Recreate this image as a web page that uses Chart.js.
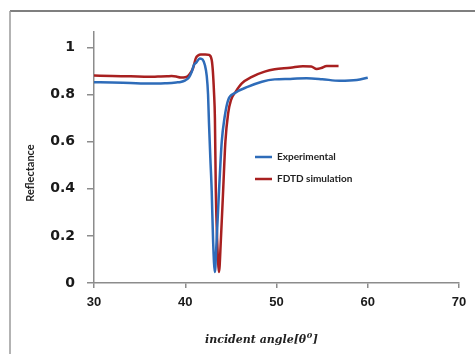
<!DOCTYPE html>
<html>
<head>
<meta charset="utf-8">
<script src="https://cdn.jsdelivr.net/npm/chart.js@4"></script>
<style>
  html, body { margin: 0; padding: 0; background: #ffffff; }
  #wrap { width: 475px; height: 354px; position: relative; }
</style>
</head>
<body>
<div id="wrap"><canvas id="c" width="475" height="354"></canvas></div>
<script>
// ---- data ----
const seriesNames = ["Experimental", "FDTD simulation"];

const expAngle = [30, 32, 34, 35.5, 37, 38, 39, 39.5, 40, 40.4, 40.7, 40.95, 41.2, 41.6, 41.9, 42.15, 42.35, 42.5, 42.6, 42.75, 42.9, 43.05, 43.25, 43.4, 43.7, 44.0, 44.3, 44.7, 45.4, 46.9, 48.4, 49.8, 51.5, 53.3, 55, 56.9, 58.8, 60];
const expR     = [0.852, 0.851, 0.849, 0.846, 0.846, 0.848, 0.851, 0.853, 0.860, 0.872, 0.895, 0.925, 0.935, 0.953, 0.948, 0.925, 0.88, 0.80, 0.68, 0.53, 0.39, 0.18, 0.047, 0.15, 0.39, 0.60, 0.70, 0.776, 0.805, 0.833, 0.854, 0.864, 0.866, 0.869, 0.865, 0.858, 0.861, 0.871];

const fdtdAngle = [30, 32, 34, 36, 37, 38, 38.5, 39, 39.5, 40, 40.4, 40.85, 41.15, 41.4, 41.7, 42.2, 42.6, 42.9, 43.03, 43.15, 43.25, 43.35, 43.5, 43.7, 43.9, 44.15, 44.4, 44.7, 45.0, 45.5, 46.2, 47.3, 48.7, 49.8, 51.5, 52.9, 53.8, 54.4, 54.9, 55.5, 56.2, 56.8];
const fdtdR     = [0.880, 0.878, 0.877, 0.875, 0.876, 0.877, 0.878, 0.876, 0.872, 0.873, 0.882, 0.911, 0.953, 0.965, 0.970, 0.970, 0.968, 0.946, 0.897, 0.81, 0.70, 0.39, 0.18, 0.047, 0.18, 0.39, 0.60, 0.72, 0.775, 0.81, 0.847, 0.875, 0.897, 0.907, 0.913, 0.920, 0.919, 0.908, 0.912, 0.921, 0.921, 0.921];

const xTickValues = [30, 40, 50, 60, 70];
const yTickValues = [0, 0.2, 0.4, 0.6, 0.8, 1];

const xTitle = "incident angle[θ";
const xTitleSup = "0";
const xTitleEnd = "]";
const yTitle = "Reflectance";

// ---- styles ----
const BLUE = "#2e6cb9";
const RED = "#a82020";
const AXIS = "#8c8c8c";

function pts(xs, ys) { return xs.map((x, i) => ({ x: x, y: ys[i] })); }

const decor = {
  id: "decor",
  beforeDraw(chart) {
    const ctx = chart.ctx;
    ctx.save();
    ctx.fillStyle = "#ffffff";
    ctx.fillRect(0, 0, chart.width, chart.height);
    // outer frame
    ctx.strokeStyle = "#555555";
    ctx.lineWidth = 1.5;
    ctx.beginPath();
    ctx.moveTo(10, 11); ctx.lineTo(475, 11);
    ctx.stroke();
    ctx.strokeStyle = "#9a9a9a";
    ctx.beginPath();
    ctx.moveTo(10, 11); ctx.lineTo(10, 354);
    ctx.stroke();
    ctx.restore();
  },
  afterDraw(chart) {
    const ctx = chart.ctx;
    ctx.save();
    // legend
    const ds = chart.data.datasets;
    const rows = [157, 179];
    ds.forEach((d, i) => {
      ctx.strokeStyle = d.borderColor;
      ctx.lineWidth = 2.5;
      ctx.beginPath();
      ctx.moveTo(255, rows[i]); ctx.lineTo(272, rows[i]);
      ctx.stroke();
      ctx.fillStyle = "#222222";
      ctx.font = "bold 10px Lato";
      ctx.textBaseline = "middle";
      ctx.textAlign = "left";
      ctx.fillText(d.label, 277, rows[i]);
    });
    // x title
    ctx.fillStyle = "#222222";
    ctx.textBaseline = "alphabetic";
    ctx.font = "bold italic 11px 'DejaVu Serif'";
    const w1 = ctx.measureText(xTitle).width;
    ctx.font = "bold italic 8px 'DejaVu Serif'";
    const w2 = ctx.measureText(xTitleSup).width;
    ctx.font = "bold italic 11px 'DejaVu Serif'";
    const w3 = ctx.measureText(xTitleEnd).width;
    let x0 = 261 - (w1 + w2 + w3) / 2;
    const base = 343;
    ctx.fillText(xTitle, x0, base);
    ctx.font = "bold italic 8px 'DejaVu Serif'";
    ctx.fillText(xTitleSup, x0 + w1 + 0.5, base - 5);
    ctx.font = "bold italic 11px 'DejaVu Serif'";
    ctx.fillText(xTitleEnd, x0 + w1 + w2 + 1, base);
    // y title
    ctx.translate(30, 173);
    ctx.rotate(-Math.PI / 2);
    ctx.font = "bold 11px Lato";
    ctx.textAlign = "center";
    ctx.textBaseline = "middle";
    ctx.fillText(yTitle, 0, 0);
    ctx.restore();
  }
};

new Chart(document.getElementById("c"), {
  type: "line",
  data: {
    datasets: [
      { label: seriesNames[0], data: pts(expAngle, expR), borderColor: BLUE, backgroundColor: BLUE,
        borderWidth: 2.5, pointRadius: 0, cubicInterpolationMode: "monotone", fill: false },
      { label: seriesNames[1], data: pts(fdtdAngle, fdtdR), borderColor: RED, backgroundColor: RED,
        borderWidth: 2.5, pointRadius: 0, cubicInterpolationMode: "monotone", fill: false }
    ]
  },
  options: {
    responsive: false,
    animation: false,
    devicePixelRatio: 1,
    layout: { padding: { top: 32, right: 16, left: 0, bottom: 0 } },
    plugins: { legend: { display: false }, tooltip: { enabled: false }, title: { display: false } },
    scales: {
      x: {
        type: "linear",
        min: 30, max: 70,
        afterBuildTicks(s) { s.ticks = xTickValues.map(v => ({ value: v })); },
        afterFit(s) { s.height = 71; },
        grid: { drawOnChartArea: false, drawTicks: true, tickLength: 5, color: AXIS, lineWidth: 1.5 },
        border: { display: true, color: AXIS, width: 1.5 },
        ticks: { color: "#1a1a1a", font: { family: "Liberation Sans", size: 13, weight: "bold" }, padding: 7, maxRotation: 0,
          callback: v => String(v) }
      },
      y: {
        type: "linear",
        min: 0, max: 1.065,
        afterBuildTicks(s) { s.ticks = yTickValues.map(v => ({ value: v })); },
        afterFit(s) { s.width = 94; },
        grid: { drawOnChartArea: false, drawTicks: true, tickLength: 7, color: AXIS, lineWidth: 1.5 },
        border: { display: true, color: AXIS, width: 1.5 },
        ticks: { color: "#1a1a1a", font: { family: "DejaVu Sans", size: 14, weight: "bold" }, padding: 12,
          callback: v => String(Math.round(v * 10) / 10) }
      }
    }
  },
  plugins: [decor]
});
</script>
</body>
</html>
